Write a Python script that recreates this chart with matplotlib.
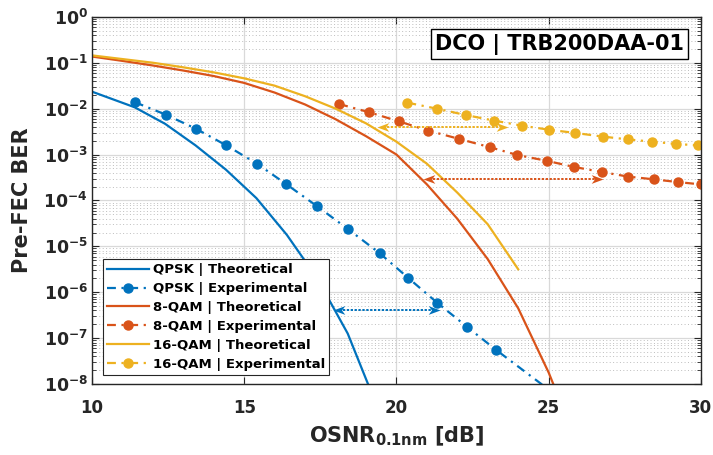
import matplotlib
matplotlib.use("Agg")
import matplotlib.pyplot as plt
import numpy as np
from matplotlib.path import Path
from matplotlib.ticker import FixedLocator, LogLocator, NullFormatter

plt.rcParams['font.family'] = ['DejaVu Sans']
plt.rcParams['font.weight'] = 'bold'
plt.rcParams['axes.labelweight'] = 'bold'
plt.rcParams['mathtext.fontset'] = 'custom'
plt.rcParams['mathtext.rm'] = 'DejaVu Sans:bold'
plt.rcParams['mathtext.bf'] = 'DejaVu Sans:bold'
plt.rcParams['mathtext.default'] = 'bf'

# values (BER given as log10)
qpsk_th_osnr = [10.0, 11.4, 12.4, 13.4, 14.4, 15.4, 16.4, 17.4, 18.4, 19.4]
qpsk_th_logber = [-1.63, -1.97, -2.33, -2.80, -3.33, -3.95, -4.75, -5.70, -6.90, -8.55]

qam8_th_osnr = [10, 11, 12, 13, 14, 15, 16, 17, 18, 19, 20, 21, 22, 23, 24, 25, 26]
qam8_th_logber = [-0.865, -0.96, -1.06, -1.17, -1.29, -1.44, -1.65, -1.91, -2.23,
                  -2.60, -3.00, -3.65, -4.40, -5.28, -6.35, -7.75, -9.40]

qam16_th_osnr = [10, 11, 12, 13, 14, 15, 16, 17, 18, 19, 20, 21, 22, 23, 24]
qam16_th_logber = [-0.84, -0.92, -1.00, -1.10, -1.21, -1.34, -1.50, -1.73, -2.00,
                   -2.32, -2.72, -3.20, -3.83, -4.52, -5.50]

qpsk_ex_osnr = [11.41, 12.42, 13.42, 14.41, 15.42, 16.37, 17.38, 18.42, 19.45,
                20.39, 21.34, 22.33, 23.26, 25.3]
qpsk_ex_logber = [-1.86, -2.13, -2.44, -2.80, -3.20, -3.64, -4.12, -4.63, -5.15,
                  -5.69, -6.23, -6.76, -7.25, -8.27]

qam8_ex_osnr = [18.12, 19.11, 20.09, 21.05, 22.06, 23.07, 23.97, 24.96, 25.83,
                26.74, 27.60, 28.45, 29.24, 29.99]
qam8_ex_logber = [-1.90, -2.08, -2.28, -2.48, -2.66, -2.84, -3.01, -3.14, -3.27,
                  -3.38, -3.48, -3.54, -3.60, -3.65]

qam16_ex_osnr = [20.36, 21.32, 22.28, 23.20, 24.11, 25.02, 25.87, 26.79, 27.60,
                 28.40, 29.19, 29.90]
qam16_ex_logber = [-1.87, -2.00, -2.14, -2.26, -2.37, -2.46, -2.53, -2.61, -2.67,
                   -2.72, -2.77, -2.80]

# OSNR penalty arrows: (start, end, log10 BER)
arrow_qpsk = (17.92, 21.43, -6.38)
arrow_8qam = (20.88, 26.79, -3.53)
arrow_16qam = (19.35, 23.67, -2.41)

x_ticks = [10, 15, 20, 25, 30]
y_ticks = [1e-8, 1e-7, 1e-6, 1e-5, 1e-4, 1e-3, 1e-2, 1e-1, 1e0]
y_tick_labels = ['$10^{-8}$', '$10^{-7}$', '$10^{-6}$', '$10^{-5}$', '$10^{-4}$',
                 '$10^{-3}$', '$10^{-2}$', '$10^{-1}$', '$10^{0}$']

c_blue = '#0072BD'
c_orange = '#D95319'
c_yellow = '#EDB120'
ink = '#262626'

fig = plt.figure(figsize=(7.13, 4.55), dpi=100)
ax = fig.add_axes([0.129, 0.156, 0.854, 0.807])


def ber(v):
    return 10.0 ** np.array(v)


dd = (4, 2.5, 1, 2.5)
ax.plot(qpsk_th_osnr, ber(qpsk_th_logber), '-', color=c_blue, lw=1.6,
        label='QPSK | Theoretical')
ax.plot(qpsk_ex_osnr, ber(qpsk_ex_logber), '-.', color=c_blue, lw=1.6,
        marker='o', ms=6.5, dashes=dd, label='QPSK | Experimental')
ax.plot(qam8_th_osnr, ber(qam8_th_logber), '-', color=c_orange, lw=1.6,
        label='8-QAM | Theoretical')
ax.plot(qam8_ex_osnr, ber(qam8_ex_logber), '-.', color=c_orange, lw=1.6,
        marker='o', ms=6.5, dashes=dd, label='8-QAM | Experimental')
ax.plot(qam16_th_osnr, ber(qam16_th_logber), '-', color=c_yellow, lw=1.6,
        label='16-QAM | Theoretical')
ax.plot(qam16_ex_osnr, ber(qam16_ex_logber), '-.', color=c_yellow, lw=1.6,
        marker='o', ms=6.5, dashes=dd, label='16-QAM | Experimental')

# swept-back arrow heads, tip at the marker origin
head_r = Path([(0, 0), (-1, 0.37), (-0.72, 0), (-1, -0.37), (0, 0)],
              [Path.MOVETO, Path.LINETO, Path.LINETO, Path.LINETO, Path.CLOSEPOLY])
head_l = Path([(0, 0), (1, 0.37), (0.72, 0), (1, -0.37), (0, 0)],
              [Path.MOVETO, Path.LINETO, Path.LINETO, Path.LINETO, Path.CLOSEPOLY])
for (x0, x1, ly), col in [(arrow_qpsk, c_blue), (arrow_8qam, c_orange),
                          (arrow_16qam, c_yellow)]:
    y = 10 ** ly
    ax.plot([x0 + 0.2, x1 - 0.2], [y, y], color=col, lw=1.4, ls=(0, (1.2, 0.8)))
    ax.plot([x0], [y], ls='none', marker=head_l, ms=17, color=col, mew=0)
    ax.plot([x1], [y], ls='none', marker=head_r, ms=17, color=col, mew=0)

ax.set_yscale('log')
ax.set_xlim(10, 30)
ax.set_ylim(1e-8, 1e0)
ax.set_xticks(x_ticks)
ax.set_xticklabels([str(t) for t in x_ticks])
ax.yaxis.set_major_locator(FixedLocator(y_ticks))
ax.set_yticklabels(y_tick_labels)
ax.yaxis.set_minor_locator(LogLocator(base=10, subs=np.arange(2, 10), numticks=20))
ax.yaxis.set_minor_formatter(NullFormatter())

ax.grid(True, which='major', color='#d9d9d9', lw=0.9)
ax.grid(True, which='minor', axis='y', color='#bdbdbd', lw=0.7, ls=(0, (1, 2.5)))
ax.set_axisbelow(True)

ax.tick_params(which='both', direction='in', top=True, right=True, colors=ink)
ax.tick_params(axis='x', labelsize=12, pad=11)
ax.tick_params(axis='y', labelsize=12.5, pad=3)
ax.tick_params(which='major', length=5)
ax.tick_params(which='minor', length=3)
for sp in ax.spines.values():
    sp.set_color(ink)
    sp.set_linewidth(1.0)

ax.set_xlabel('OSNR$_{0.1nm}$ [dB]', fontsize=15, color=ink, labelpad=5)
ax.set_ylabel('Pre-FEC BER', fontsize=15, color=ink, labelpad=8)

ax.text(0.972, 0.926, 'DCO | TRB200DAA-01', transform=ax.transAxes,
        ha='right', va='center', fontsize=15, color='black',
        bbox=dict(boxstyle='square,pad=0.2', fc='white', ec='black', lw=1.0))

leg = ax.legend(loc='lower left', bbox_to_anchor=(0.018, 0.025), borderaxespad=0,
                fontsize=9.5, handlelength=3.2, fancybox=False, framealpha=1,
                edgecolor=ink, labelspacing=0.45, borderpad=0.3, handletextpad=0.3)
leg.get_frame().set_linewidth(0.8)

fig.savefig('out.png', dpi=100)
